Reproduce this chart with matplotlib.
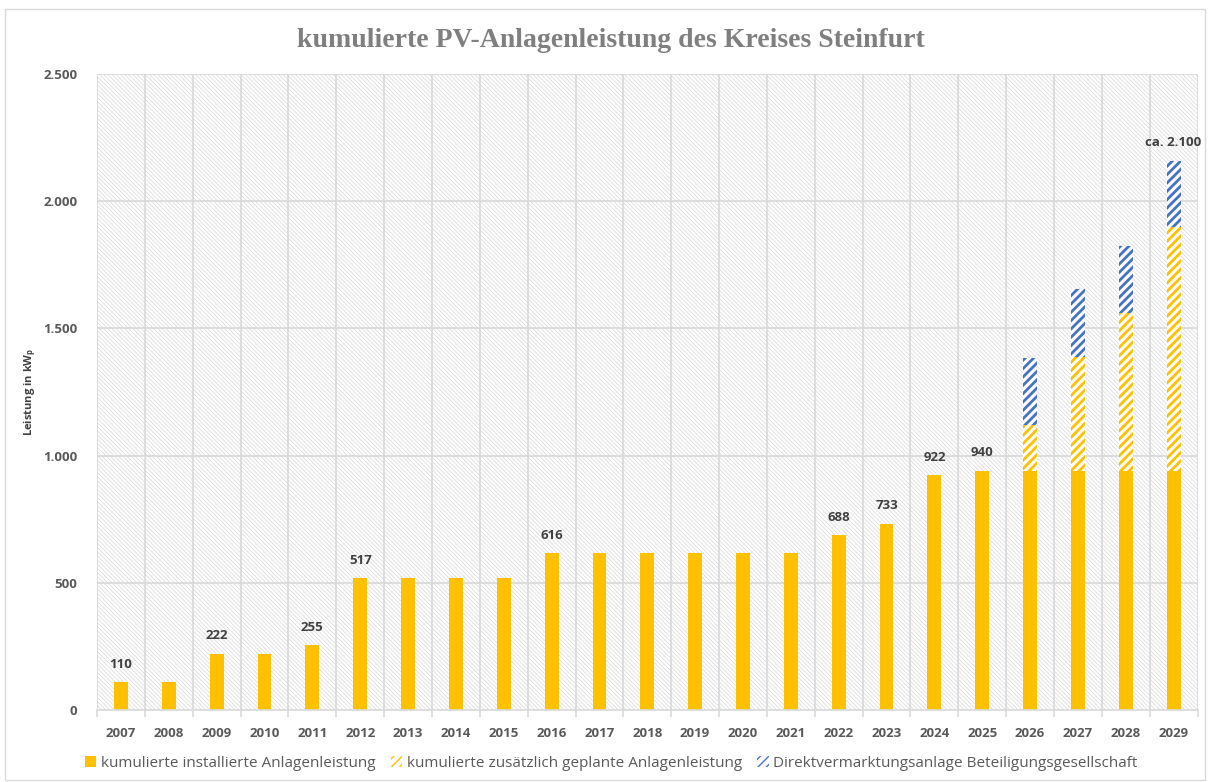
import matplotlib.pyplot as plt
from matplotlib.patches import Rectangle, Patch
from matplotlib.ticker import FuncFormatter, MultipleLocator
import numpy as np

# data
years = [str(y) for y in range(2007, 2030)]
installed = [110, 110, 222, 222, 255, 517, 517, 517, 517, 616, 616, 616, 616,
             616, 616, 688, 733, 922, 940, 940, 940, 940, 940]
planned = [0] * 19 + [180, 449, 622, 957]
direct = [0] * 19 + [264, 265, 262, 262]
labels = {"2007": "110", "2009": "222", "2011": "255", "2012": "517",
          "2016": "616", "2022": "688", "2023": "733", "2024": "922",
          "2025": "940", "2029": "ca. 2.100"}

yellow = "#FFC000"
blue = "#4472C4"
grey_txt = "#595959"

plt.rcParams['font.family'] = ['Open Sans', 'DejaVu Sans']

fig = plt.figure(figsize=(12.1, 7.82), dpi=100)
fig.patches.append(Rectangle((0.004, 0.003), 0.992, 0.986, transform=fig.transFigure,
                             fill=False, edgecolor="#d9d9d9", linewidth=1))
ax = fig.add_axes([0.0802, 0.0921, 0.9095, 0.8133])

x = np.arange(len(years))
ax.set_xlim(-0.5, len(years) - 0.5)
ax.set_ylim(0, 2500)

# hatched background
bg = Rectangle((0, 0), 1, 1, transform=ax.transAxes, facecolor="white",
               edgecolor="#dedede", linewidth=0, hatch="\\" * 8, zorder=0)
if hasattr(bg, "set_hatch_linewidth"):
    bg.set_hatch_linewidth(0.6)
ax.add_patch(bg)

# grid
for v in range(500, 2501, 500):
    ax.axhline(v, color="#d9d9d9", linewidth=1.2, zorder=1)
for b in np.arange(-0.5, len(years), 1.0):
    ax.axvline(b, color="#d9d9d9", linewidth=1.2, zorder=1)

w = 0.29
ax.bar(x, installed, width=w, color=yellow, linewidth=0, zorder=3)
b2 = ax.bar(x, planned, width=w, bottom=installed, facecolor="white",
            edgecolor=yellow, linewidth=0, hatch="////", zorder=3)
bottom2 = [a + b for a, b in zip(installed, planned)]
b3 = ax.bar(x, direct, width=w, bottom=bottom2, facecolor="white",
            edgecolor=blue, linewidth=0, hatch="////", zorder=3)
for p in list(b2) + list(b3):
    if hasattr(p, "set_hatch_linewidth"):
        p.set_hatch_linewidth(2.0)

totals = [a + b + c for a, b, c in zip(installed, planned, direct)]
for i, yr in enumerate(years):
    if yr in labels:
        ax.text(x[i], totals[i] + 45, labels[yr], ha="center", va="bottom",
                fontsize=9.5, fontweight="bold", color="#404040", zorder=5)

for s in ["top", "right", "left"]:
    ax.spines[s].set_visible(False)
ax.spines["bottom"].set_color("#d9d9d9")
ax.spines["bottom"].set_linewidth(1.2)
ax.spines["bottom"].set_zorder(4)

ax.set_xticks(x)
ax.set_xticklabels(years, fontsize=9.5, fontweight="bold", color=grey_txt)
ax.tick_params(axis="x", length=0, pad=12)
ax.set_xticks(np.arange(-0.5, len(years), 1.0), minor=True)
ax.tick_params(axis="x", which="minor", length=5, color="#d9d9d9", width=1.2)

ax.yaxis.set_major_locator(MultipleLocator(500))
ax.yaxis.set_major_formatter(FuncFormatter(lambda v, p: f"{int(v):,}".replace(",", ".")))
ax.tick_params(axis="y", length=0, pad=14, labelsize=9.5, labelcolor=grey_txt)
for t in ax.get_yticklabels():
    t.set_fontweight("bold")

ax.set_ylabel(r"Leistung in kW$_\mathregular{p}$", fontsize=8, fontweight="bold",
              color="#404040")
ax.yaxis.set_label_coords(-0.054, 0.5)

fig.text(0.505, 0.948, "kumulierte PV-Anlagenleistung des Kreises Steinfurt",
         ha="center", va="center", fontsize=20, fontweight="bold",
         color="#7f7f7f", family=["Liberation Serif"])

handles = [Patch(facecolor=yellow, edgecolor=yellow, linewidth=0),
           Patch(facecolor="white", edgecolor=yellow, linewidth=0, hatch="////"),
           Patch(facecolor="white", edgecolor=blue, linewidth=0, hatch="////")]
for h in handles[1:]:
    if hasattr(h, "set_hatch_linewidth"):
        h.set_hatch_linewidth(2.0)
leg = fig.legend(handles,
                 ["kumulierte installierte Anlagenleistung",
                  "kumulierte zusätzlich geplante Anlagenleistung",
                  "Direktvermarktungsanlage Beteiligungsgesellschaft"],
                 loc="center", bbox_to_anchor=(0.505, 0.024), ncol=3, frameon=False,
                 fontsize=11, handlelength=0.75, handleheight=0.75,
                 handletextpad=0.3, columnspacing=1.0)
for t in leg.get_texts():
    t.set_color(grey_txt)

fig.savefig("out.png", dpi=100)
